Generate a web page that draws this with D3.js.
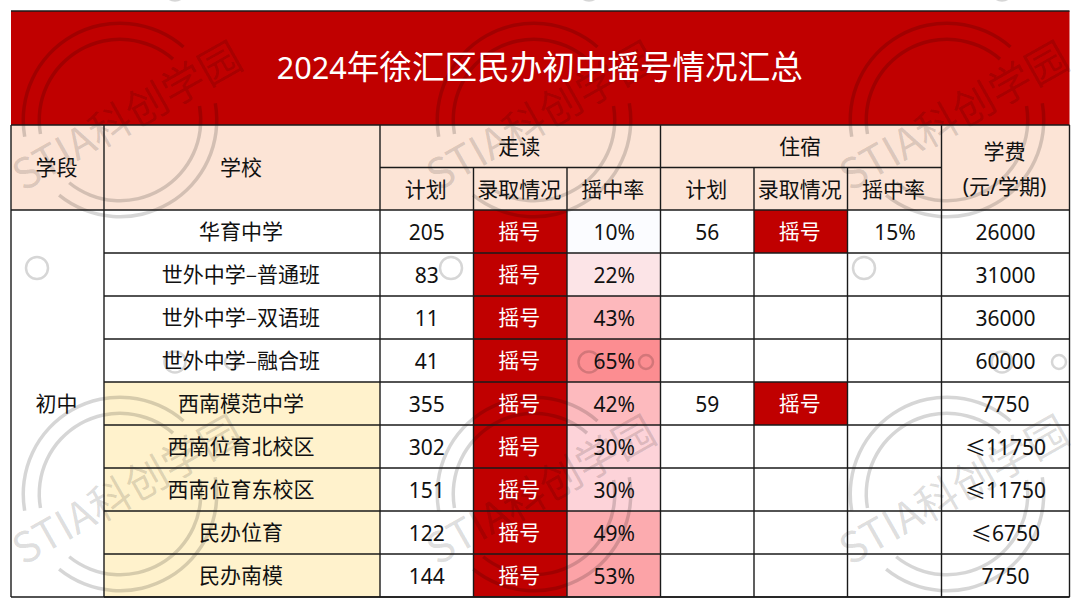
<!DOCTYPE html>
<html><head><meta charset="utf-8">
<script src="https://cdnjs.cloudflare.com/ajax/libs/d3/7.8.5/d3.min.js"></script>
<style>html,body{margin:0;padding:0;background:#fff}svg{display:block}text{font-family:"Noto Sans CJK SC","Noto Sans",sans-serif;text-anchor:middle;fill:#111}</style>
</head><body><svg id="c" width="1080" height="607"></svg>
<script>
const titleText = "2024年徐汇区民办初中摇号情况汇总";
const stage = "初中";
const schools = ["华育中学","世外中学–普通班","世外中学–双语班","世外中学–融合班","西南模范中学","西南位育北校区","西南位育东校区","民办位育","民办南模"];
const walkPlan = [205,83,11,41,355,302,151,122,144];
const walkStatus = ["摇号","摇号","摇号","摇号","摇号","摇号","摇号","摇号","摇号"];
const walkRate = [10,22,43,65,42,30,30,49,53];
const boardPlan = [56,null,null,null,59,null,null,null,null];
const boardStatus = ["摇号",null,null,null,"摇号",null,null,null,null];
const boardRate = [15,null,null,null,null,null,null,null,null];
const fees = ["26000","31000","36000","60000","7750","≤11750","≤11750","≤6750","7750"];
const highlighted = [false,false,false,false,true,true,true,true,true];
const rateStops = [10,22,30,43,53,65];
const rateColors = ["#fbfcff","#fce4e7","#fdd3d9","#fdb8bc","#fca3a7","#fc8d91"];
const watermarkText = "STIA科创学园";

const svg = d3.select("#c");
const colKeys = ["stage","school","wp","ws","wr","bp","bs","br","fee"];
const colEdges = [11,104,380,473.5,567,660.5,754,847.5,941.5,1069.5];
const X = d3.scaleOrdinal().domain(colKeys.concat("end")).range(colEdges);
const Y = d3.scaleBand().domain(d3.range(schools.length)).range([210,597]);
const rateColor = d3.scaleLinear().domain(rateStops).range(rateColors);
const cw = k => X(colKeys[colKeys.indexOf(k)+1] || "end") - X(k);
const cx = k => X(k) + cw(k)/2 - 1;
const topY=11, titleB=125, h1=167.5, h2=210, bottomY=597, leftX=11, rightX=1069.5;

const bg = svg.append("g");
const rect=(x,y,w,h,f)=>bg.append("rect").attr("x",x).attr("y",y).attr("width",w).attr("height",h).attr("fill",f);
rect(leftX,topY,rightX-leftX,titleB-topY,"#c00000");
rect(leftX,titleB,rightX-leftX,h2-titleB,"#fce4d6");
schools.forEach((s,i)=>{
  if(highlighted[i]) rect(X("school"),Y(i),X("wp")-X("school"),Y.bandwidth(),"#fff2cc");
  rect(X("ws"),Y(i),X("wr")-X("ws"),Y.bandwidth(),"#c00000");
  rect(X("wr"),Y(i),X("bp")-X("wr"),Y.bandwidth(),rateColor(walkRate[i]));
  if(boardStatus[i]) rect(X("bs"),Y(i),X("br")-X("bs"),Y.bandwidth(),"#c00000");
});

// watermark
const wm = svg.append("g").attr("fill","#000").attr("fill-opacity",0.16);
const rad = d=>d*Math.PI/180;
const tileX=[120,534,947], tileY=[120,494];
const arc = d3.arc();
tileX.forEach(wx=>{
  tileY.forEach(wy=>{
    const g = wm.append("g").attr("transform",`translate(${wx},${wy})`);
    [[95,98.5],[79,82.5]].forEach(([r0,r1])=>{
      [[80,219],[260,401]].forEach(([a,b])=>{
        g.append("path").attr("d",arc({innerRadius:r0,outerRadius:r1,startAngle:rad(a),endAngle:rad(b)}));
      });
    });
    g.append("text").attr("transform","rotate(-29.5)").attr("x",8).attr("y",15)
      .attr("font-size",42).attr("font-weight",400).attr("fill-opacity",0.14).style("fill","#000")
      .text(watermarkText);
  });
  [[wx-83,268,11],[wx+55,362,10.5],[wx+112,362,7],[wx+55,-10,10.5]].forEach(([x,y,r])=>{
    wm.append("circle").attr("cx",x).attr("cy",y).attr("r",r).attr("fill","none")
      .attr("stroke","#000").attr("stroke-opacity",0.16).attr("stroke-width",2.5);
  });
});

// grid
const lines = svg.append("g").attr("stroke","#1a1a1a").attr("stroke-width",1.4).attr("fill","none");
const ln=(x1,y1,x2,y2)=>lines.append("line").attr("x1",x1).attr("y1",y1).attr("x2",x2).attr("y2",y2);
ln(leftX,topY,rightX,topY);
ln(leftX,titleB,rightX,titleB);
ln(X("wp"),h1,X("fee"),h1);
ln(leftX,h2,rightX,h2);
d3.range(schools.length).forEach(i=>ln(X("school"),Y(i)+Y.bandwidth(),rightX,Y(i)+Y.bandwidth()));
ln(leftX,bottomY,rightX,bottomY);
ln(leftX,titleB,leftX,bottomY);
ln(rightX,titleB,rightX,bottomY);
ln(X("school"),titleB,X("school"),bottomY);
ln(X("wp"),titleB,X("wp"),bottomY);
ln(X("bp"),titleB,X("bp"),bottomY);
ln(X("fee"),titleB,X("fee"),bottomY);
["ws","wr","bs","br"].forEach(k=>ln(X(k),h1,X(k),bottomY));

// text: CJK runs in the CJK face, Latin runs in a plain sans
const T = svg.append("g");
const tx=(x,y,s,size=21,c="#111",latin=1)=>{
  const t=T.append("text").attr("x",x).attr("y",y).attr("dy","0.35em").attr("font-size",size).style("fill",c);
  (String(s).match(/[0-9A-Za-z%\/()]+|[^0-9A-Za-z%\/()]+/g)||[]).forEach(run=>{
    const sp=t.append("tspan").text(run);
    if(/^[0-9A-Za-z%\/()]/.test(run)) sp.attr("font-size",size*latin).style("font-family","'Noto Sans',sans-serif");
  });
};
tx((leftX+rightX)/2-0.5,68,titleText,32.6,"#fff",0.94);
tx(cx("stage"),167.5,"学段");
tx(cx("school"),167.5,"学校");
tx((X("wp")+X("bp"))/2-1,146.5,"走读");
tx((X("bp")+X("fee"))/2-1,146.5,"住宿");
tx(cx("fee"),151.5,"学费");
tx(cx("fee"),186.5,"(元/学期)");
[["wp","计划"],["ws","录取情况"],["wr","摇中率"],["bp","计划"],["bs","录取情况"],["br","摇中率"]].forEach(([k,s])=>tx(cx(k),189.5,s));
tx(cx("stage"),404,stage);
schools.forEach((s,i)=>{
  const y=Y(i)+Y.bandwidth()/2+0.5;
  const ny=y+0.7;
  tx(cx("school"),y,s);
  tx(cx("wp")+1,ny,walkPlan[i]);
  tx(cx("ws"),y,walkStatus[i],21,"#fff");
  tx(cx("wr")+1.5,ny,walkRate[i]+"%");
  if(boardPlan[i]!=null) tx(cx("bp")+1,ny,boardPlan[i]);
  if(boardStatus[i]) tx(cx("bs"),y,boardStatus[i],21,"#fff");
  if(boardRate[i]!=null) tx(cx("br")+1.5,ny,boardRate[i]+"%");
  tx(cx("fee")+1,ny,fees[i]);
});
</script></body></html>
